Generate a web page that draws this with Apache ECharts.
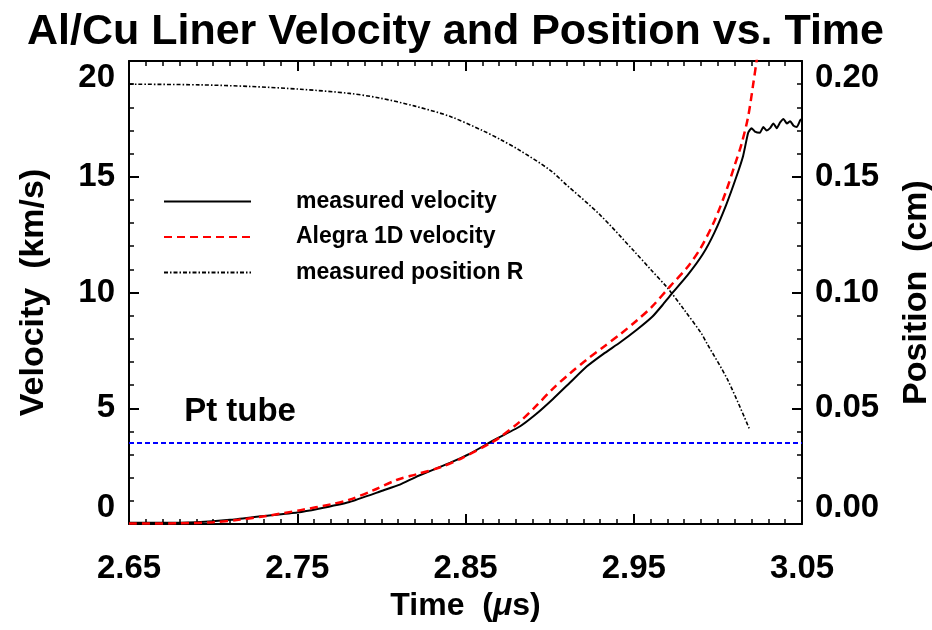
<!DOCTYPE html>
<html>
<head>
<meta charset="utf-8">
<script src="https://cdn.jsdelivr.net/npm/echarts@6/dist/echarts.min.js"></script>
<style>html,body{margin:0;padding:0;background:#fff;}#c{width:932px;height:630px;}</style>
</head>
<body>
<div id="c"></div>
<script>
const measuredVelocity = [
  [2.650,0.05],[2.670,0.05],[2.690,0.08],[2.710,0.18],[2.728,0.33],[2.750,0.50],[2.762,0.65],
  [2.781,0.95],[2.801,1.45],[2.811,1.70],[2.821,2.05],[2.841,2.65],[2.853,3.05],[2.865,3.55],
  [2.882,4.20],[2.892,4.75],[2.902,5.40],[2.912,6.10],[2.922,6.80],[2.932,7.35],[2.942,7.85],
  [2.952,8.40],[2.961,8.95],[2.967,9.45],[2.972,9.90],[2.982,10.75],[2.991,11.65],[2.998,12.60],
  [3.005,13.80],[3.011,15.00],[3.015,15.90],[3.018,16.90],[3.020,17.10],[3.022,16.95],[3.025,16.90],
  [3.027,17.15],[3.029,17.00],[3.031,17.10],[3.033,17.30],[3.035,17.10],[3.037,17.35],[3.039,17.50],
  [3.041,17.30],[3.043,17.40],[3.045,17.20],[3.047,17.15],[3.049,17.45],[3.050,17.50]
];
const alegraVelocity = [
  [2.650,0.02],[2.680,0.03],[2.700,0.08],[2.715,0.18],[2.732,0.35],[2.752,0.60],[2.770,0.85],
  [2.781,1.05],[2.795,1.45],[2.809,1.90],[2.821,2.15],[2.835,2.45],[2.848,2.85],[2.865,3.50],
  [2.870,3.72],[2.882,4.40],[2.892,5.10],[2.902,5.85],[2.912,6.50],[2.922,7.10],[2.932,7.65],
  [2.942,8.20],[2.952,8.80],[2.961,9.40],[2.972,10.30],[2.982,11.10],[2.990,11.95],[2.998,13.10],
  [3.005,14.40],[3.010,15.50],[3.014,16.40],[3.018,17.60],[3.021,19.00],[3.023,20.00],[3.025,21.00]
];
const measuredPosition = [
  [2.650,0.1900],[2.692,0.1897],[2.722,0.1890],[2.752,0.1878],[2.781,0.1860],[2.799,0.1840],
  [2.820,0.1805],[2.841,0.1760],[2.860,0.1700],[2.871,0.1660],[2.882,0.1615],[2.900,0.1530],
  [2.910,0.1465],[2.930,0.1335],[2.950,0.1180],[2.960,0.1100],[2.970,0.1020],[2.980,0.0925],
  [2.990,0.0825],[2.9935,0.0780],[3.006,0.0620],[3.019,0.0406]
];
const ptTubeVelocity = 3.5;
const timeRange = [2.65, 3.05];
const ptTubeLine = [[timeRange[0], ptTubeVelocity], [timeRange[1], ptTubeVelocity]];
const ptTubeLabelAt = [2.716, 4.85];
const seriesNames = ['measured velocity', 'Alegra 1D velocity', 'measured position R'];

const FONT = 'Liberation Sans, Arial, Helvetica, sans-serif';
const chart = echarts.init(document.getElementById('c'), null, {renderer: 'canvas'});

const tickCommon = {show: true, inside: true, length: 10, lineStyle: {color: '#000', width: 2}};
const minorCommon = {show: true, length: 5, lineStyle: {color: '#000', width: 1.5}};
const lineCommon = {show: true, onZero: false, lineStyle: {color: '#000', width: 2}};
const labelFont = {color: '#000', fontFamily: FONT, fontWeight: 'bold', fontSize: 33};
const nameFont = {color: '#000', fontFamily: FONT, fontWeight: 'bold', fontSize: 34};

chart.setOption({
  animation: false,
  backgroundColor: '#fff',
  title: {
    text: 'Al/Cu Liner Velocity and Position vs. Time',
    left: 22, top: 6,
    textStyle: {color: '#000', fontFamily: FONT, fontWeight: 'bold', fontSize: 43}
  },
  grid: {left: 129, right: 130, top: 61, bottom: 106, containLabel: false, outerBoundsMode: 'none'},
  legend: {
    data: seriesNames,
    orient: 'vertical', left: 163, top: 190, padding: 0,
    itemWidth: 87, itemHeight: 14, itemGap: 12.5,
    itemStyle: {opacity: 0},
    formatter: n => '{a|' + n + '}',
    textStyle: {rich: {a: {padding: [0, 0, 0, 40], lineHeight: 24, fontSize: 23, fontWeight: 'bold', fontFamily: FONT, color: '#000'}}}
  },
  xAxis: [{
    type: 'value', min: timeRange[0], max: timeRange[1], interval: 0.1,
    position: 'bottom',
    name: 'Time  ({i|μ}s)', nameLocation: 'middle', nameGap: 66,
    nameTextStyle: Object.assign({}, nameFont, {fontSize: 32,
      rich: {i: {fontStyle: 'italic', fontFamily: FONT, fontWeight: 'bold', fontSize: 32, color: '#000'}}}),
    axisLine: lineCommon, axisTick: tickCommon,
    minorTick: Object.assign({splitNumber: 10}, minorCommon),
    splitLine: {show: false}, minorSplitLine: {show: false},
    axisLabel: Object.assign({margin: 28, formatter: v => v.toFixed(2)}, labelFont)
  }, {
    type: 'value', min: timeRange[0], max: timeRange[1], interval: 0.1,
    position: 'top',
    axisLine: lineCommon, axisTick: tickCommon,
    minorTick: Object.assign({splitNumber: 10}, minorCommon),
    splitLine: {show: false}, axisLabel: {show: false}
  }],
  yAxis: [{
    type: 'value', min: 0, max: 20, interval: 5, position: 'left',
    name: 'Velocity  (km/s)', nameLocation: 'middle', nameRotate: 90, nameGap: 78,
    nameTextStyle: nameFont,
    axisLine: lineCommon, axisTick: tickCommon,
    minorTick: Object.assign({splitNumber: 5}, minorCommon),
    splitLine: {show: false},
    axisLabel: Object.assign({margin: 14, verticalAlignMinLabel: 'bottom', verticalAlignMaxLabel: 'top'}, labelFont)
  }, {
    type: 'value', min: 0, max: 0.2, interval: 0.05, position: 'right',
    name: 'Position  (cm)', nameLocation: 'middle', nameRotate: 90, nameGap: 98,
    nameTextStyle: nameFont,
    axisLine: lineCommon, axisTick: tickCommon,
    minorTick: Object.assign({splitNumber: 5}, minorCommon),
    splitLine: {show: false},
    axisLabel: Object.assign({margin: 13, formatter: v => v.toFixed(2), verticalAlignMinLabel: 'bottom', verticalAlignMaxLabel: 'top'}, labelFont)
  }],
  series: [{
    name: 'Pt tube', type: 'line', data: ptTubeLine, symbol: 'none', xAxisIndex: 0, yAxisIndex: 0,
    lineStyle: {color: '#0000ff', width: 2, type: [5, 3]}, z: 2, silent: true,
    markPoint: {
      symbol: 'rect', symbolSize: 0,
      data: [{coord: ptTubeLabelAt}],
      label: {show: true, position: 'inside', formatter: 'Pt tube', color: '#000', fontFamily: FONT, fontWeight: 'bold', fontSize: 33}
    }
  }, {
    name: seriesNames[2], type: 'line', data: measuredPosition, symbol: 'none', yAxisIndex: 1, smooth: 0.3,
    lineStyle: {color: '#000', width: 1.6, type: [4, 2, 1.5, 2]}, itemStyle: {color: '#000'}, z: 3
  }, {
    name: seriesNames[0], type: 'line', data: measuredVelocity, symbol: 'none', yAxisIndex: 0, smooth: 0.15,
    lineStyle: {color: '#000', width: 2}, itemStyle: {color: '#000'}, z: 4
  }, {
    name: seriesNames[1], type: 'line', data: alegraVelocity, symbol: 'none', yAxisIndex: 0, clip: true, smooth: 0.3,
    lineStyle: {color: '#ff0000', width: 2.5, type: [8, 5]}, itemStyle: {color: '#ff0000'}, z: 5
  }]
});
</script>
</body>
</html>
